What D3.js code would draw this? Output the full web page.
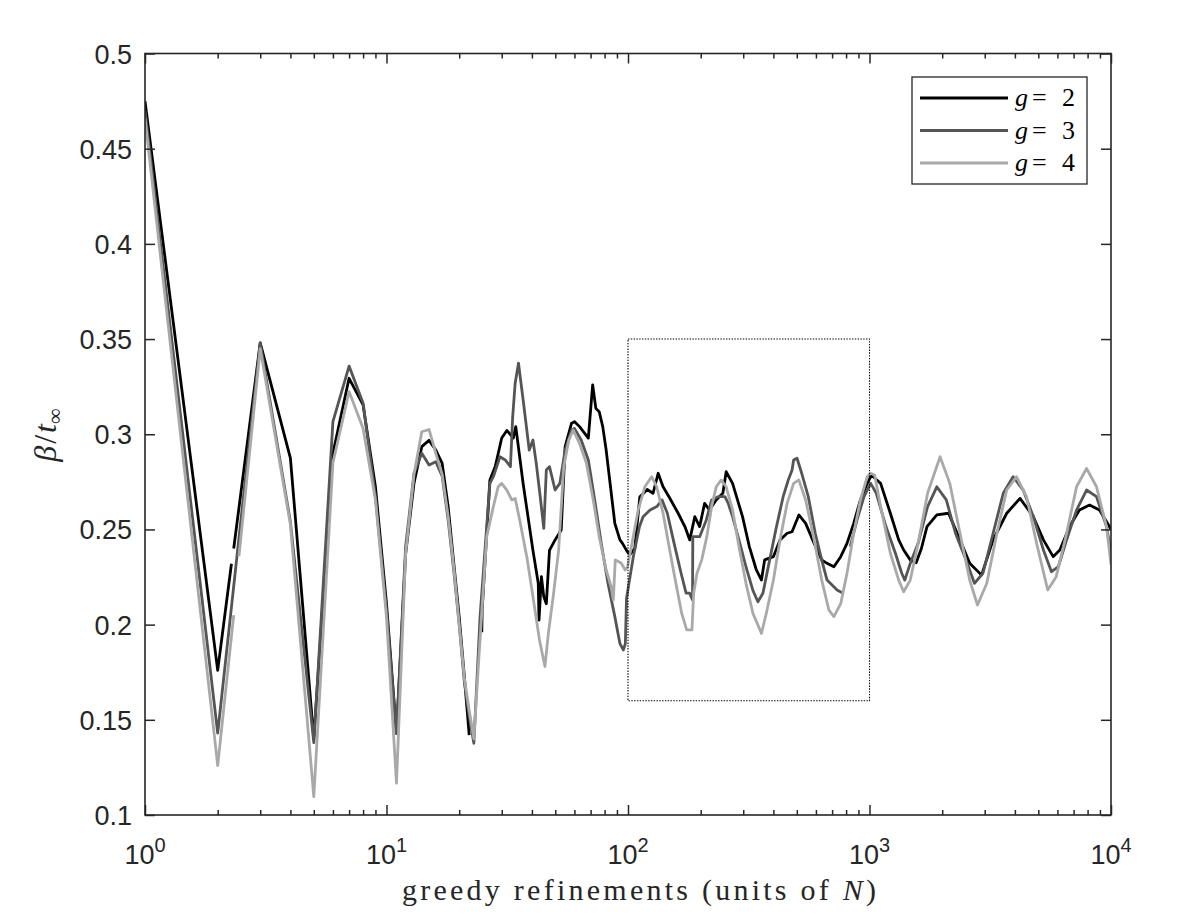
<!DOCTYPE html>
<html><head><meta charset="utf-8">
<script src="https://cdn.jsdelivr.net/npm/d3@7/dist/d3.min.js"></script>
<style>body{margin:0;background:#fff;} svg{display:block;}</style>
</head><body>
<svg id="chart" width="1196" height="918"></svg>
<script>
// ---- data (x = greedy refinements, y = beta/t_inf); null = gap in the curve ----
const g2X = [1,2,2.28,2.30,2.33,3,4,5,6,7,8,9,10,11,12,13,14,15,16,17,18,19,20,21,22,23.5,24.8,24.9,26.8,28.2,30,31.5,32.5,33.5,34.3,36.8,40.4,42.5,42.8,43.8,44.8,45.9,47.3,49.9,52.9,54.9,58.4,60.1,63,68.5,71.4,73.6,76,78.6,81.2,88.2,92.6,94.9,98.6,101.7,106.7,111.9,120,127,133.3,139.7,148.8,161.3,172,180.2,189,198,207.6,217.5,231.7,247,255,271,298,318,340,357,368,400,426,456,478,510,544,590,634,667,712,760,807,860,917,979,1020,1060,1112,1220,1321,1385,1475,1560,1640,1730,1900,2125,2370,2600,2910,3250,3700,4200,4770,5250,5760,6140,6740,7400,8150,8960,9850,10000];
const g2Y = [0.475,0.176,0.232,null,0.240,0.348,0.2875,0.140,0.290,0.3294,0.3154,0.2724,0.211,0.1429,0.237,0.2743,0.2935,0.2968,0.2917,0.2847,0.262,0.232,0.204,0.173,0.142,null,0.196,0.2077,0.276,0.283,0.298,0.302,0.300,0.298,0.304,0.274,0.239,0.2217,0.2024,0.2252,0.2147,0.211,0.239,0.2445,0.2497,0.2935,0.3058,0.3066,0.304,0.298,0.3259,0.3136,0.3118,0.304,0.2917,0.2532,0.2445,0.2427,0.239,0.2366,0.240,0.267,0.271,0.269,0.2795,0.2724,0.2665,0.2585,0.2515,0.2445,0.2567,0.2515,0.2637,0.2602,0.2655,0.269,0.2803,0.2742,0.2567,0.241,0.2287,0.2234,0.234,0.2357,0.2445,0.248,0.2488,0.2576,0.2532,0.2427,0.234,0.2322,0.2304,0.2357,0.2427,0.2532,0.2655,0.2742,0.2786,0.2765,0.2742,0.2585,0.2445,0.2392,0.234,0.2325,0.240,0.2515,0.2576,0.2585,0.2445,0.2322,0.226,0.2445,0.2585,0.2663,0.2567,0.2445,0.2357,0.2392,0.2515,0.2602,0.2628,0.2602,0.2515,0.250];

const g3X = [1,2,3,4,5,6,7,8,9,10,11,12,13,14,15,16,17,18,19,20,21,22,23,24.4,26.8,27.7,29.5,31,32.6,33.3,34.1,35.2,36.8,39,40.4,41.7,43.3,44.8,45.9,47.3,49.9,52.2,54.9,58.4,60,64,68.5,72.8,77.5,82.6,88.2,92.6,95.6,97.5,98.6,105.2,111.6,115.5,123.4,131.7,138.4,145.5,155.2,165.9,174,180,185,185.5,198,211,222,236,252,260,271,288,308,329,345,362,386,412,439,461,478,485,501,524,558,596,634,667,734,778,805,832,888,949,1011,1067,1170,1280,1360,1400,1475,1590,1740,1900,2080,2270,2510,2720,2950,3250,3580,3930,4330,4770,5250,5670,6050,6550,7200,7920,8710,9580,10000];
const g3Y = [0.470,0.143,0.348,0.254,0.138,0.3066,0.3358,0.3163,0.2672,0.2077,0.1429,0.241,0.2795,0.290,0.2838,0.2856,0.278,0.255,0.228,0.200,0.170,0.152,0.1377,0.2042,0.2742,0.2777,0.2882,0.2865,0.283,0.309,0.3268,0.3373,0.318,0.2917,0.297,0.2847,0.2672,0.2506,0.2812,0.283,0.2707,0.2742,0.2917,0.3022,0.3031,0.297,0.2865,0.2655,0.2427,0.2217,0.2042,0.190,0.1867,0.190,0.2138,0.2357,0.2515,0.2567,0.2602,0.262,0.2655,0.2585,0.2427,0.227,0.2165,0.2165,0.213,0.2462,0.2462,0.255,0.2655,0.2672,0.2672,0.2637,0.2567,0.2445,0.2304,0.218,0.212,0.2165,0.234,0.2515,0.2672,0.276,0.2812,0.2865,0.2874,0.2795,0.2672,0.248,0.234,0.2234,0.2182,0.2165,null,0.241,0.255,0.2672,0.2742,0.269,0.2515,0.2375,0.227,0.2234,0.2322,0.2427,0.262,0.2724,0.2655,0.248,0.234,0.2217,0.227,0.248,0.269,0.2777,0.2707,0.2567,0.2392,0.2278,0.2304,0.2445,0.2602,0.2707,0.2672,0.2515,0.238];

const g4X = [1,2,2.33,2.40,2.45,3,4,5,6,7,8,9,10,11,12,13,14,15,16,17,18,19,20,21,22,23,24,26,27.7,29,30,31.5,33,34.1,35.6,38.1,40.4,43,45.3,46.8,49.2,51.6,54.2,56.9,59.3,63,67.3,71.8,76,81.2,85.2,86.9,88.6,93.9,97.3,99.6,104.5,110.2,117.4,125.3,131.5,139.7,148.8,158.8,166.8,175,184,187,193,202,212,222,232,243,255,271,288,308,329,357,374,400,426,456,485,510,544,590,634,679,712,760,807,860,917,979,1011,1050,1112,1220,1321,1385,1475,1590,1740,1960,2150,2370,2600,2800,3060,3370,3700,4060,4470,4920,5470,5930,6550,7200,7920,8710,9580,10000];
const g4Y = [0.466,0.126,0.205,null,0.236,0.345,0.2525,0.1096,0.285,0.3224,0.303,0.2655,0.204,0.1167,0.237,0.279,0.3013,0.3025,0.290,0.279,0.257,0.230,0.200,0.172,0.155,0.140,0.178,0.2462,0.262,0.2724,0.2742,0.2707,0.2655,0.2663,0.255,0.2357,0.2147,0.1919,0.178,0.1954,0.2165,0.239,0.283,0.297,0.3022,0.2952,0.2847,0.2655,0.2462,0.2287,0.2199,0.213,0.234,0.2322,0.2287,0.2304,0.2445,0.2602,0.2724,0.2777,0.2724,0.2585,0.2392,0.220,0.206,0.1972,0.1972,0.2165,0.227,0.234,0.2462,0.262,0.2724,0.276,0.2724,0.2602,0.241,0.2217,0.206,0.1954,0.206,0.2234,0.2445,0.2637,0.2742,0.276,0.2655,0.2445,0.2234,0.2077,0.2042,0.211,0.227,0.248,0.2655,0.2777,0.2795,0.2786,0.262,0.2375,0.2234,0.2173,0.2234,0.2427,0.269,0.2882,0.2742,0.248,0.2234,0.2103,0.2217,0.248,0.2707,0.2777,0.2672,0.2427,0.2182,0.2252,0.248,0.2724,0.282,0.2724,0.2515,0.2315];

const seriesG = ["2","3","4"];
const seriesColors = ["#000000","#555555","#a9a9a9"];
const yTickValues = [0.1,0.15,0.2,0.25,0.3,0.35,0.4,0.45,0.5];
const yTickLabels = ["0.1","0.15","0.2","0.25","0.3","0.35","0.4","0.45","0.5"];
const xMajorTicks = [1,10,100,1000,10000];
const xTickExps = ["0","1","2","3","4"];
const zoomBoxX = [100,1000];
const zoomBoxY = [0.16,0.35];

// ---- layout ----
const L = 145, R = 1111, T = 53.5, B = 815;
const axisColor = "#262626";
const svg = d3.select("#chart");
const x = d3.scaleLog().domain([1,1e4]).range([L,R]);
const y = d3.scaleLinear().domain([0.1,0.5]).range([B,T]);
const minorX = x.ticks().filter(v => xMajorTicks.indexOf(v) < 0);

svg.append("defs").append("clipPath").attr("id","clip")
  .append("rect").attr("x",L).attr("y",T).attr("width",R-L).attr("height",B-T);

// series
const series = [[g2X,g2Y],[g3X,g3Y],[g4X,g4Y]];
const line = d3.line().defined(d => d[1] !== null).x(d => x(d[0])).y(d => y(d[1]));
const gLines = svg.append("g").attr("clip-path","url(#clip)");
series.forEach((s,i) => {
  const pts = s[0].map((v,k) => [v, s[1][k]]);
  gLines.append("path").datum(pts).attr("d", line)
    .attr("fill","none").attr("stroke",seriesColors[i]).attr("stroke-width",2.8)
    .attr("stroke-linejoin","round");
});

// zoom box (dotted)
svg.append("rect")
  .attr("x", x(zoomBoxX[0])).attr("y", y(zoomBoxY[1]))
  .attr("width", x(zoomBoxX[1]) - x(zoomBoxX[0]))
  .attr("height", y(zoomBoxY[0]) - y(zoomBoxY[1]))
  .attr("fill","none").attr("stroke","#000").attr("stroke-width",1.1)
  .attr("stroke-dasharray","1.4,1.4");

// axes (ticks inside, on all four sides)
function styleAxis(g){
  g.select(".domain").remove();
  g.selectAll("line").attr("stroke",axisColor).attr("stroke-width",1.5);
  g.selectAll("text").remove();
}
svg.append("g").attr("transform",`translate(0,${B})`)
  .call(d3.axisBottom(x).tickValues(xMajorTicks).tickSize(-10).tickFormat("")).call(styleAxis);
svg.append("g").attr("transform",`translate(0,${B})`)
  .call(d3.axisBottom(x).tickValues(minorX).tickSize(-5).tickFormat("")).call(styleAxis);
svg.append("g").attr("transform",`translate(0,${T})`)
  .call(d3.axisTop(x).tickValues(xMajorTicks).tickSize(-10).tickFormat("")).call(styleAxis);
svg.append("g").attr("transform",`translate(0,${T})`)
  .call(d3.axisTop(x).tickValues(minorX).tickSize(-5).tickFormat("")).call(styleAxis);
svg.append("g").attr("transform",`translate(${L},0)`)
  .call(d3.axisLeft(y).tickValues(yTickValues).tickSize(-10).tickFormat("")).call(styleAxis);
svg.append("g").attr("transform",`translate(${R},0)`)
  .call(d3.axisRight(y).tickValues(yTickValues).tickSize(-10).tickFormat("")).call(styleAxis);

// frame
svg.append("rect").attr("x",L).attr("y",T).attr("width",R-L).attr("height",B-T)
  .attr("fill","none").attr("stroke",axisColor).attr("stroke-width",1.6);

// y tick labels
svg.append("g").selectAll("text").data(yTickValues).join("text")
  .attr("x", L - 13).attr("y", d => y(d) + 10)
  .attr("text-anchor","end")
  .attr("font-family","'Liberation Sans', Arial, sans-serif").attr("font-size",27)
  .attr("fill",axisColor)
  .text((d,i) => yTickLabels[i]);

// x tick labels (10^k)
const xl = svg.append("g").selectAll("text").data(xMajorTicks).join("text")
  .attr("x", d => x(d)).attr("y", 864)
  .attr("text-anchor","middle")
  .attr("font-family","'Liberation Sans', Arial, sans-serif").attr("font-size",27)
  .attr("fill",axisColor);
xl.append("tspan").text("10");
xl.append("tspan").attr("dy",-12).attr("font-size",20).text((d,i) => xTickExps[i]);

// x axis label
const xlab = svg.append("text").attr("x", (L+R)/2 + 11).attr("y", 900)
  .attr("text-anchor","middle")
  .attr("font-family","'Liberation Serif', 'Times New Roman', serif").attr("font-size",30)
  .attr("fill",axisColor)
  .attr("textLength",474).attr("lengthAdjust","spacing");
xlab.append("tspan").text("greedy refinements (units of ");
xlab.append("tspan").attr("font-style","italic").text("N");
xlab.append("tspan").text(")");

// y axis label
const ylab = svg.append("text").attr("transform","translate(56,435) rotate(-90)")
  .attr("text-anchor","middle")
  .attr("font-family","'Liberation Serif', 'Times New Roman', serif").attr("font-size",32)
  .attr("fill",axisColor);
ylab.append("tspan").attr("font-style","italic").text("β");
ylab.append("tspan").attr("dx",2).text("/");
ylab.append("tspan").attr("dx",2).attr("font-style","italic").text("t");
ylab.append("tspan").attr("dy",6).attr("font-size",22).text("∞");

// legend
const lg = svg.append("g");
lg.append("rect").attr("x",912).attr("y",77).attr("width",175).attr("height",107)
  .attr("fill","#fff").attr("stroke",axisColor).attr("stroke-width",1.3);
seriesG.forEach((g,i) => {
  const ry = 98 + i*32.5;
  lg.append("line").attr("x1",920).attr("x2",1008).attr("y1",ry).attr("y2",ry)
    .attr("stroke",seriesColors[i]).attr("stroke-width",2.8);
  const t = lg.append("text").attr("y", ry + 8)
    .attr("font-family","'Liberation Serif', 'Times New Roman', serif").attr("font-size",26)
    .attr("fill","#000");
  t.append("tspan").attr("x",1015).attr("font-style","italic").text("g");
  t.append("tspan").attr("x",1032).text("=");
  t.append("tspan").attr("x",1062).text(g);
});
</script>
</body></html>
